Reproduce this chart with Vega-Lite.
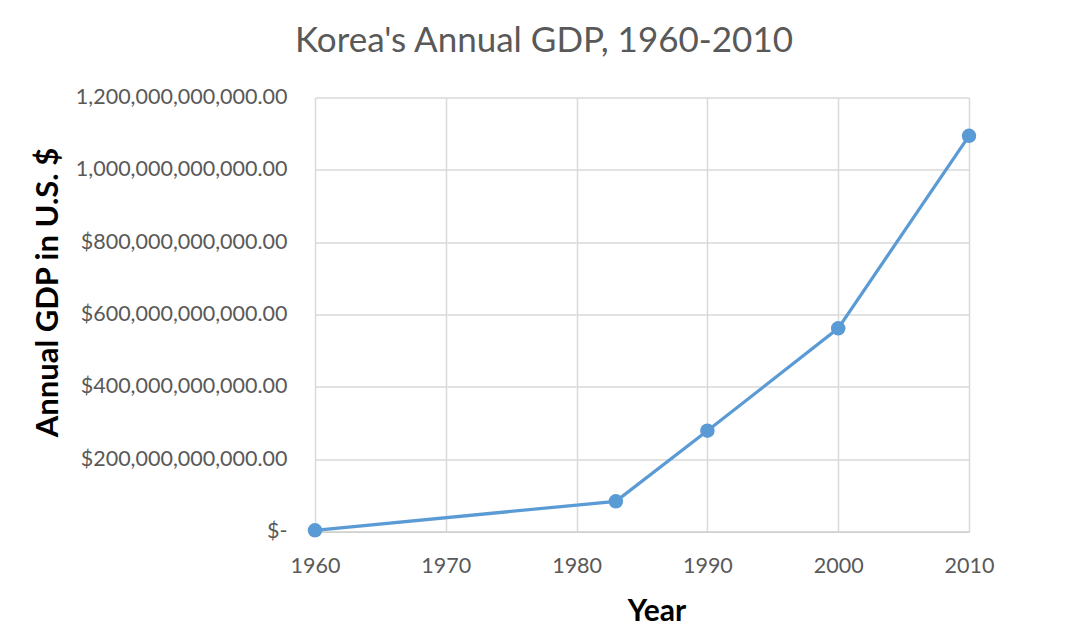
{
  "$schema": "https://vega.github.io/schema/vega-lite/v6.json",
  "autosize": {"type": "none"},
  "width": 654,
  "height": 434.2,
  "padding": {"left": 315, "top": 97.5, "right": 114, "bottom": 104.3},
  "background": "white",
  "title": {
    "text": "Korea's Annual GDP, 1960-2010",
    "font": "Lato",
    "fontSize": 35,
    "fontWeight": "normal",
    "color": "#595959",
    "anchor": "middle",
    "baseline": "alphabetic",
    "offset": 0,
    "dx": -98
  },
  "data": {
    "values": [
      {"Year": 1960, "GDP": 3960000000},
      {"Year": 1983, "GDP": 84000000000},
      {"Year": 1990, "GDP": 279000000000},
      {"Year": 2000, "GDP": 562000000000},
      {"Year": 2010, "GDP": 1094000000000}
    ]
  },
  "encoding": {
    "x": {
      "field": "Year",
      "type": "quantitative",
      "scale": {"domain": [1960, 2010], "nice": false, "zero": false},
      "axis": {
        "title": "Year",
        "values": [1960, 1970, 1980, 1990, 2000, 2010],
        "format": "d",
        "grid": true,
        "gridColor": "#d9d9d9",
        "gridWidth": 1.5,
        "domain": true,
        "domainColor": "#d0d0d0",
        "domainWidth": 1.5,
        "ticks": false,
        "tickSize": 0,
        "labelFont": "Lato",
        "labelFontSize": 21.5,
        "labelColor": "#595959",
        "labelBaseline": "alphabetic",
        "labelPadding": 41,
        "labelFlush": false,
        "labelLimit": 0,
        "titleFont": "Lato",
        "titleFontSize": 30,
        "titleFontWeight": "bold",
        "titleColor": "#000000",
        "titleBaseline": "alphabetic",
        "titleX": 341.5,
        "titleY": 88.3
      }
    },
    "y": {
      "field": "GDP",
      "type": "quantitative",
      "scale": {"domain": [0, 1200000000000], "nice": false},
      "axis": {
        "title": "Annual GDP in U.S. $",
        "values": [0, 200000000000, 400000000000, 600000000000, 800000000000, 1000000000000, 1200000000000],
        "labelExpr": "datum.value == 0 ? '$-' : (datum.value >= 1000000000000 ? format(datum.value, ',.2f') : '$' + format(datum.value, ',.2f'))",
        "grid": true,
        "gridColor": "#d9d9d9",
        "gridWidth": 1.5,
        "domain": false,
        "ticks": false,
        "tickSize": 0,
        "labelFont": "Lato",
        "labelFontSize": 21.5,
        "labelColor": "#595959",
        "labelPadding": 28,
        "labelFlush": false,
        "labelLimit": 0,
        "titleFont": "Lato",
        "titleFontSize": 31,
        "titleFontWeight": "bold",
        "titleColor": "#000000",
        "titleAngle": -90,
        "titleBaseline": "alphabetic",
        "titleAlign": "center",
        "titleX": -258,
        "titleY": 194.5
      }
    }
  },
  "layer": [
    {"mark": {"type": "line", "color": "#5B9BD5", "strokeWidth": 3.25}},
    {"mark": {"type": "point", "filled": true, "opacity": 1, "color": "#5B9BD5", "size": 210}}
  ],
  "config": {"view": {"stroke": null}}
}
